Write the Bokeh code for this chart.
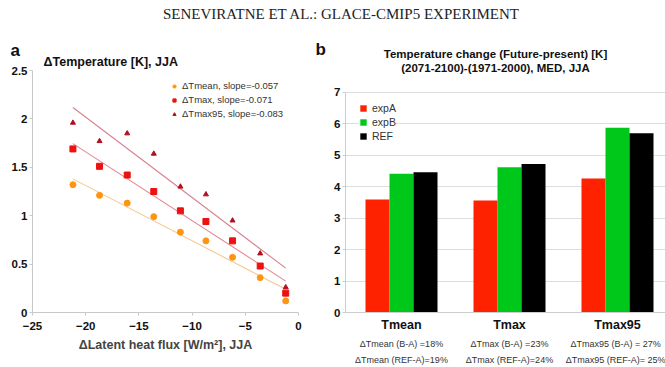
import numpy as np
from bokeh.plotting import figure
from bokeh.layouts import column, row
from bokeh.models import (ColumnDataSource, Label, Legend, LegendItem, FixedTicker, Range1d,
                          LinearAxis)
from bokeh.transform import dodge
from bokeh.embed import file_html
from bokeh.resources import INLINE

# ---------------- data ----------------
latent_flux = [-21.2, -18.7, -16.1, -13.6, -11.1, -8.7, -6.2, -3.6, -1.2]
d_tmean = [1.32, 1.21, 1.13, 0.99, 0.83, 0.74, 0.57, 0.36, 0.12]
d_tmax = [1.69, 1.51, 1.42, 1.25, 1.05, 0.94, 0.74, 0.48, 0.20]
d_tmax95 = [1.96, 1.77, 1.85, 1.64, 1.30, 1.22, 0.95, 0.61, 0.26]
slopes = [-0.057, -0.071, -0.083]
slope_labels = ["\u0394Tmean, slope=-0.057", "\u0394Tmax, slope=-0.071", "\u0394Tmax95, slope=-0.083"]
a_yticks = [0, 0.5, 1, 1.5, 2, 2.5]
a_ytick_labels = ["0", "0.5", "1", "1.5", "2", "2.5"]
a_xticks = [-25, -20, -15, -10, -5, 0]

categories = ["Tmean", "Tmax", "Tmax95"]
expA = [3.59, 3.56, 4.26]
expB = [4.41, 4.62, 5.87]
ref = [4.46, 4.72, 5.70]
notes_ba = ["\u0394Tmean (B-A) =18%", "\u0394Tmax (B-A) =23%", "\u0394Tmax95 (B-A) = 27%"]
notes_ref = ["\u0394Tmean (REF-A)=19%", "\u0394Tmax (REF-A)=24%", "\u0394Tmax95 (REF-A)= 25%"]
b_yticks = [0, 1, 2, 3, 4, 5, 6, 7]

FONT = "Liberation Sans"


def canvas_label(p, x, y, text, side="above", **kw):
    lab = Label(x=x, y=y, x_units=kw.pop("x_units", "canvas"), y_units="canvas", text=text,
                text_font=kw.pop("text_font", FONT), text_baseline="middle", **kw)
    p.add_layout(lab, side)
    return lab


# ---------------- header ----------------
hdr = figure(width=665, height=22, output_backend="svg", toolbar_location=None,
             x_range=(0, 1), y_range=(0, 1), min_border=0)
hdr.axis.visible = False
hdr.grid.visible = False
hdr.outline_line_color = None
hdr.add_layout(Label(x=341, y=9, x_units="screen", y_units="screen",
                     text="SENEVIRATNE ET AL.: GLACE-CMIP5 EXPERIMENT",
                     text_font="Liberation Serif", text_font_size="15px",
                     text_color="#222222", text_align="center", text_baseline="middle"))

# ---------------- panel a ----------------
p1 = figure(width=315, height=345, output_backend="svg", toolbar_location=None,
            x_range=Range1d(-25, 0), y_range=Range1d(0, 2.5), title_location=None,
            min_border_left=32, min_border_right=17, min_border_top=48, min_border_bottom=53)
p1.grid.visible = False
p1.outline_line_color = None
for ax in (p1.xaxis[0], p1.yaxis[0]):
    ax.axis_line_color = "#c8c8c8"
    ax.major_tick_line_color = "#c8c8c8"
    ax.major_tick_out = 3
    ax.major_tick_in = 0
    ax.minor_tick_line_color = None
    ax.major_label_text_font = FONT
    ax.major_label_text_font_style = "bold"
    ax.major_label_text_font_size = "11.5px"
    ax.major_label_text_color = "#111111"
p1.yaxis[0].ticker = FixedTicker(ticks=a_yticks)
p1.yaxis[0].major_label_overrides = {t: l for t, l in zip(a_yticks, a_ytick_labels)}
p1.yaxis[0].major_label_standoff = 2
p1.xaxis[0].ticker = FixedTicker(ticks=a_xticks)
p1.xaxis[0].major_label_standoff = 6
p1.xaxis[0].axis_label = "\u0394Latent heat flux [W/m\u00b2], JJA"
p1.xaxis[0].axis_label_text_font = FONT
p1.xaxis[0].axis_label_text_font_style = "bold"
p1.xaxis[0].axis_label_text_font_size = "12.5px"
p1.xaxis[0].axis_label_standoff = 5

series = [
    (d_tmean, "#ff9410", "#f6c88e", "circle", 6),
    (d_tmax, "#ee1111", "#e38890", "square", 6),
    (d_tmax95, "#b01020", "#d8808f", "triangle", 5),
]
xs = np.array(latent_flux)
items = []
for (ys, mcol, lcol, marker, size), k, lab in zip(series, slopes, slope_labels):
    yarr = np.array(ys)
    b = yarr.mean() - k * xs.mean()
    xl = [xs.min(), xs.max()]
    p1.line(xl, [k * v + b for v in xl], line_color=lcol, line_width=1.1)
    r = p1.scatter(latent_flux, ys, marker=marker, size=size, fill_color=mcol, line_color=mcol)
    items.append(LegendItem(label=lab, renderers=[r]))

leg1 = Legend(items=items, location=(138, 193), orientation="vertical",
              background_fill_alpha=0, border_line_color=None,
              glyph_width=8, glyph_height=8, label_height=11, label_width=10,
              label_standoff=4, spacing=3, padding=2, margin=0,
              label_text_font=FONT, label_text_font_size="9.5px", label_text_color="#333333")
p1.add_layout(leg1)

canvas_label(p1, 10, 28, "a", text_font_style="bold", text_font_size="17px", text_color="#111111")
canvas_label(p1, 43, 39, "\u0394Temperature [K], JJA", text_font_style="bold",
             text_font_size="12.5px", text_color="#111111")

# ---------------- panel b ----------------
pos = list(range(1, len(categories) + 1))
src = ColumnDataSource(dict(x=pos, expA=expA, expB=expB, ref=ref))
x0 = 1 - 56 / 108
y_top = 7 + 22 / ((314 - 92) / 7)
p2 = figure(width=350, height=345, output_backend="svg", toolbar_location=None,
            x_range=Range1d(x0, x0 + 320 / 108), y_range=Range1d(0, y_top), title_location=None,
            min_border_left=30, min_border_right=0, min_border_top=48, min_border_bottom=53)
p2.xgrid.visible = False
p2.ygrid.grid_line_color = "#dddddd"
p2.ygrid.ticker = FixedTicker(ticks=b_yticks)
p2.outline_line_color = None
for ax in (p2.xaxis[0], p2.yaxis[0]):
    ax.axis_line_color = "#cccccc"
    ax.major_tick_line_color = "#cccccc"
    ax.major_tick_out = 3
    ax.major_tick_in = 0
    ax.minor_tick_line_color = None
    ax.major_label_text_font = FONT
    ax.major_label_text_font_style = "bold"
    ax.major_label_text_color = "#111111"
p2.yaxis[0].ticker = FixedTicker(ticks=b_yticks)
p2.yaxis[0].bounds = (0, 7)
p2.yaxis[0].major_label_text_font_size = "11.5px"
p2.yaxis[0].major_label_standoff = 2
p2.xaxis[0].ticker = FixedTicker(ticks=pos)
p2.xaxis[0].major_tick_line_color = None
p2.xaxis[0].major_tick_out = 0
p2.xaxis[0].major_label_overrides = {p: c for p, c in zip(pos, categories)}
p2.xaxis[0].major_label_text_font_size = "12.5px"
p2.xaxis[0].major_label_standoff = 5

notes_axis = LinearAxis(ticker=FixedTicker(ticks=pos),
                        major_label_overrides={p: f"{n1}\n{n2}" for p, n1, n2 in zip(pos, notes_ba, notes_ref)},
                        axis_line_color=None, major_tick_line_color=None, minor_tick_line_color=None,
                        major_tick_out=0, major_tick_in=0, major_label_standoff=4,
                        major_label_text_font=FONT, major_label_text_font_size="9px",
                        major_label_text_color="#333333", major_label_text_line_height=1.6)
p2.add_layout(notes_axis, "below")

bw = 24 / 108
rA = p2.vbar(x=dodge("x", -bw, range=p2.x_range), top="expA", width=bw, source=src,
             fill_color="#ff2200", line_color=None)
rB = p2.vbar(x="x", top="expB", width=bw, source=src, fill_color="#00c81a", line_color=None)
rR = p2.vbar(x=dodge("x", bw, range=p2.x_range), top="ref", width=bw, source=src,
             fill_color="#000000", line_color=None)
leg2 = Legend(items=[LegendItem(label="expA", renderers=[rA]),
                     LegendItem(label="expB", renderers=[rB]),
                     LegendItem(label="REF", renderers=[rR])],
              location=(14, 170), background_fill_color="white", background_fill_alpha=1,
              border_line_color=None, glyph_width=8, glyph_height=8, label_height=8,
              label_width=10, label_standoff=5, spacing=2, padding=6, margin=0,
              label_text_font=FONT, label_text_font_size="10.5px", label_text_color="#333333")
p2.add_layout(leg2)

canvas_label(p2, 0, 27, "b", text_font_style="bold", text_font_size="17px", text_color="#111111")
for txt, yy in (("Temperature change (Future-present) [K]", 31),
                ("(2071-2100)-(1971-2000), MED, JJA", 45)):
    canvas_label(p2, 180, yy, txt, text_font_style="bold", text_font_size="11.5px",
                 text_color="#111111", text_align="center")

layout = column(hdr, row(p1, p2))
open("out.html", "w").write(file_html(layout, INLINE))
